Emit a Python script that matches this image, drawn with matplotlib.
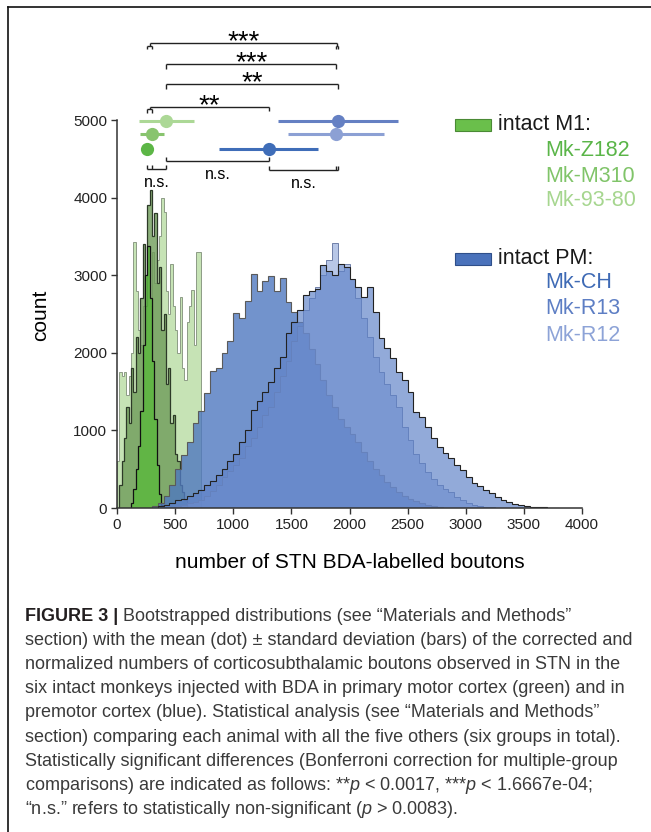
# -*- coding:utf-8 -*-
import numpy as np
import matplotlib
matplotlib.use('Agg')
import matplotlib.pyplot as plt
from matplotlib import font_manager
from matplotlib.patches import Rectangle
from matplotlib.lines import Line2D

# ---------------- data ----------------
green_bin = 20
blue_bin = 50

z182_start = 120
z182_counts = [60, 250, 500, 800, 1250, 2100, 3000, 3380, 2700, 1900, 1150, 550, 180, 40]

m310_start = 20
m310_counts = [300, 600, 900, 1300, 1100, 1800, 1500, 2200, 2000, 2700, 3400, 2600, 3900,
               4100, 3500, 3800, 2900, 3100, 2300, 2500, 1600, 1800, 1100, 1200, 700, 600,
               300, 200, 100]

m9380_start = 0
m9380_counts = [600, 1750, 1700, 1750, 1450, 1700, 2000, 3430, 2800, 2300, 2100, 2600, 2300,
                3000, 2600, 3300, 2900, 3200, 3500, 3990, 3820, 2800, 2500, 3150, 2600, 2300,
                2000, 2725, 1800, 1650, 2400, 2600, 2810, 2100, 3300, 3300]

ch_start = 300
ch_counts = [20, 60, 150, 300, 500, 680, 850, 1100, 1250, 1480, 1760, 1800, 2000, 2150, 2510,
             2450, 2670, 3010, 2800, 2930, 2990, 2800, 2960, 2650, 2520, 2400, 2250, 2050,
             1850, 1650, 1450, 1300, 1150, 1050, 950, 850, 720, 600, 500, 420, 340, 270, 210,
             160, 120, 90, 65, 40, 20, 10]

r13_start = 350
r13_counts = [20, 40, 70, 100, 120, 150, 190, 230, 290, 350, 420, 500, 600, 700, 850, 1000,
              1260, 1380, 1500, 1620, 1800, 1950, 2250, 2400, 2550, 2750, 2800, 2820, 3130,
              3050, 3000, 3150, 3100, 2950, 2850, 2720, 2850, 2525, 2190, 2060, 1930, 1750,
              1650, 1495, 1237, 1173, 1044, 900, 786, 708, 644, 560, 490, 400, 322, 280, 230,
              193, 140, 100, 77, 50, 35, 26, 18, 12, 8, 4, 2]

r12_start = 500
r12_counts = [20, 40, 60, 80, 100, 160, 220, 300, 400, 480, 550, 650, 800, 900, 1050, 1200,
              1300, 1500, 1700, 1900, 2150, 2350, 2550, 2700, 2850, 3000, 3200, 3420, 3050,
              3150, 2950, 2700, 2450, 2200, 1950, 1750, 1600, 1450, 1300, 1050, 880, 700, 580,
              460, 370, 300, 240, 200, 140, 100, 70, 45, 30, 15, 8]

# mean +- sd of each animal
animals = ['Mk-Z182', 'Mk-M310', 'Mk-93-80', 'Mk-CH', 'Mk-R13', 'Mk-R12']
means = [261, 301, 422, 1306, 1901, 1886]
sds = [40, 105, 237, 426, 520, 412]

# pairwise comparisons: (left group, right group, label)
sig_pairs = [
    (['Mk-Z182', 'Mk-M310'], ['Mk-R12', 'Mk-R13'], '***'),
    (['Mk-93-80'], ['Mk-R12'], '***'),
    (['Mk-93-80'], ['Mk-R13'], '**'),
    (['Mk-Z182', 'Mk-M310'], ['Mk-CH'], '**'),
]
ns_sets = [
    (['Mk-Z182', 'Mk-M310', 'Mk-93-80'], 'n.s.'),
    (['Mk-93-80', 'Mk-CH'], 'n.s.'),
    (['Mk-CH', 'Mk-R12', 'Mk-R13'], 'n.s.'),
]

caption = [
    "section) with the mean (dot) ± standard deviation (bars) of the corrected and",
    "normalized numbers of corticosubthalamic boutons observed in STN in the",
    "six intact monkeys injected with BDA in primary motor cortex (green) and in",
    "premotor cortex (blue). Statistical analysis (see “Materials and Methods”",
    "section) comparing each animal with all the five others (six groups in total).",
    "Statistically significant differences (Bonferroni correction for multiple-group",
    "comparisons) are indicated as follows: **$p$ < 0.0017, ***$p$ < 1.6667e-04;",
    "“n.s.” refers to statistically non-significant ($p$ > 0.0083).",
]
caption_head = "FIGURE 3 |"
caption_first = "Bootstrapped distributions (see “Materials and Methods”"


def pick_font(names):
    for n in names:
        try:
            font_manager.findfont(font_manager.FontProperties(family=n), fallback_to_default=False)
            return n
        except ValueError:
            pass
    return 'DejaVu Sans'


W, H = 651, 832
PX = 5000 / 388.0  # counts per pixel on the y axis

sans = pick_font(['Liberation Sans', 'Arial'])
narrow = pick_font(['Liberation Sans Narrow', 'Liberation Sans'])
plt.rcParams['font.family'] = [sans, 'DejaVu Sans']
plt.rcParams['mathtext.fontset'] = 'custom'
plt.rcParams['mathtext.rm'] = narrow
plt.rcParams['mathtext.it'] = narrow + ':italic'

fig = plt.figure(figsize=(W / 100, H / 100), dpi=100)
ax = fig.add_axes([117 / W, 1 - 508 / H, 465 / W, 388 / H])

mean_of = dict(zip(animals, means))


def edges(start, width, counts):
    return start + width * np.arange(len(counts) + 1)


hists = [
    (m9380_start, green_bin, m9380_counts, '#b3da9d', 0.75, '#8d9c86', 0.7),
    (m310_start, green_bin, m310_counts, '#6f9c5a', 0.8, '#2d3a28', 0.9),
    (z182_start, green_bin, z182_counts, '#5cb83f', 0.85, '#111111', 0.9),
    (ch_start, blue_bin, ch_counts, '#4f78c0', 0.8, '#5a5a5a', 0.8),
    (r12_start, blue_bin, r12_counts, '#8aa2d8', 0.6, '#6f7fa8', 0.7),
    (r13_start, blue_bin, r13_counts, '#5f82c8', 0.68, '#222222', 0.8),
]
for start, width, counts, fc, alpha, ec, lw in hists:
    ax.stairs(counts, edges(start, width, counts), fill=True,
              facecolor=matplotlib.colors.to_rgba(fc, alpha), edgecolor=ec, linewidth=lw)

# mean +- sd dots
row_y = [4630, 4820, 4990, 4630, 4990, 4820]
dot_colors = ['#5cb646', '#88c46e', '#acd896', '#3f6db8', '#6580c3', '#8ca0d4']
for m, s, y, c in zip(means, sds, row_y, dot_colors):
    ax.plot([m - s, m + s], [y, y], color=c, lw=2.2, solid_capstyle='butt', clip_on=False, zorder=5)
    ax.plot(m, y, 'o', color=c, ms=9.5, mec='none', clip_on=False, zorder=6)

# significance brackets
bk = dict(color='#222222', lw=1.0, clip_on=False, zorder=7, solid_capstyle='butt')
top_levels = [5988, 5718, 5460, 5171]
for (left, right, label), y in zip(sig_pairs, top_levels):
    centers = []
    for names in (left, right):
        xs = [mean_of[n] for n in names]
        xc = (min(xs) + max(xs)) / 2
        centers.append(xc)
        if len(xs) == 1:
            ax.plot([xc, xc], [y, y - 4.5 * PX], **bk)
        else:
            ax.plot([xc, xc], [y, y - 2.5 * PX], **bk)
            ax.plot([min(xs), max(xs)], [y - 2.5 * PX] * 2, **bk)
            for x in xs:
                ax.plot([x, x], [y - 2.5 * PX, y - 6 * PX], **bk)
    ax.plot(centers, [y, y], **bk)
    ax.annotate(label, xy=(np.mean(centers), y), xytext=(0, -4.5), textcoords='offset points',
                ha='center', va='baseline', fontsize=20, annotation_clip=False)

ns_levels = [4369, 4472, 4356]
for (names, label), y in zip(ns_sets, ns_levels):
    xs = sorted(mean_of[n] for n in names)
    ax.plot([xs[0], xs[-1]], [y, y], **bk)
    for x in xs:
        ax.plot([x, x], [y, y + 3.5 * PX], **bk)
    ax.annotate(label, xy=((xs[0] + xs[-1]) / 2, y), xytext=(0, -9.5), textcoords='offset points',
                ha='center', va='center', fontsize=11.5, annotation_clip=False)

# axes
ax.set_xlim(0, 4000)
ax.set_ylim(0, 5000)
ax.set_xticks(np.arange(0, 4001, 500))
ax.set_yticks(np.arange(0, 5001, 1000))
for s in ['top', 'right']:
    ax.spines[s].set_visible(False)
for s in ['left', 'bottom']:
    ax.spines[s].set_linewidth(1.1)
    ax.spines[s].set_color('#333333')
ax.tick_params(length=4, width=1.0, color='#333333', labelsize=11, labelcolor='#222222', pad=3)
ax.set_xlabel('number of STN BDA-labelled boutons', fontsize=15)
ax.xaxis.set_label_coords(0.5, (508 - 562) / 388)
ax.xaxis.label.set_va('center')
ax.set_ylabel('count', fontsize=15)
ax.yaxis.set_label_coords((41 - 117) / 465, (508 - 315) / 388)
ax.yaxis.label.set_va('center')
ax.patch.set_alpha(0)

# legend drawn by hand
fig.add_artist(Rectangle((455 / W, 1 - 131 / H), 36 / W, 12 / H, transform=fig.transFigure,
                         facecolor='#6abf4b', edgecolor='#4a8a35', lw=0.8))
fig.add_artist(Rectangle((455 / W, 1 - 265 / H), 36 / W, 12 / H, transform=fig.transFigure,
                         facecolor='#4a72bb', edgecolor='#2f4f8a', lw=0.8))
fig.text(498 / W, 1 - 125 / H, 'intact M1:', fontsize=15.5, va='center', color='#1a1a1a')
fig.text(498 / W, 1 - 258 / H, 'intact PM:', fontsize=15.5, va='center', color='#1a1a1a')
legend_y = [150, 176, 201, 283, 309, 335]
legend_colors = ['#5ab548', '#80c469', '#a6d68f', '#3e6ab5', '#5d7ec4', '#8da3d7']
for name, y, c in zip(animals, legend_y, legend_colors):
    fig.text(545 / W, 1 - y / H, name, fontsize=15.5, va='center', color=c)

# panel frame (left and top edges)
fig.add_artist(Line2D([8 / W, 8 / W], [0, 1 - 7 / H], transform=fig.transFigure, color='#111111', lw=1.2))
fig.add_artist(Line2D([8 / W, 1], [1 - 7 / H, 1 - 7 / H], transform=fig.transFigure, color='#111111', lw=1.2))

# caption, fitted to the panel width
fs0 = 12
head = fig.text(25 / W, 1 - 621 / H, caption_head, fontsize=fs0, family=narrow, weight='bold',
                color='#231f20', va='baseline')
first = fig.text(0, 1 - 621 / H, caption_first, fontsize=fs0, family=narrow, color='#3a3a3a', va='baseline')
lines = []
for i, line in enumerate(caption):
    lines.append(fig.text(25 / W, 1 - (621 + 24.1 * (i + 1)) / H, line, fontsize=fs0, family=narrow,
                          color='#3a3a3a', va='baseline'))
fig.canvas.draw()
r = fig.canvas.get_renderer()
scale = 611.0 / lines[0].get_window_extent(r).width
for t in [head, first] + lines:
    t.set_fontsize(fs0 * scale)
fig.canvas.draw()
x1 = head.get_window_extent(r).x1
first.set_x((x1 + 5) / W)

fig.savefig('out.png', dpi=100)
